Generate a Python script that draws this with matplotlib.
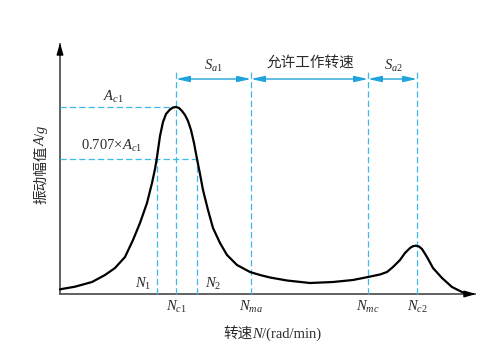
import numpy as np
import matplotlib
matplotlib.use("Agg")
import matplotlib.pyplot as plt

plt.rcParams['font.family'] = ['Liberation Serif', 'Noto Sans CJK SC']
plt.rcParams['mathtext.fontset'] = 'custom'
plt.rcParams['mathtext.rm'] = 'Liberation Serif'
plt.rcParams['mathtext.it'] = 'Liberation Serif:italic'

# amplitude curve (speed, amplitude)
speed = [0, 15, 32, 45, 55, 65, 73, 80, 87, 92, 95, 97, 100, 103, 106, 110,
         113, 116, 119, 122, 125, 128, 131, 134, 137, 140, 143, 148, 153,
         160, 167, 177, 190, 200, 210, 227, 250, 273, 293, 308, 320, 327,
         333, 340, 345, 350, 353, 356, 359, 362, 367, 373, 382, 392, 402, 407]
amp = [4.7, 7.3, 12, 19, 26, 37, 54, 71, 91, 111, 125, 137, 158, 172, 180, 184.5,
       186.5, 187, 186, 183, 179, 173, 164, 151, 135, 120, 104, 84, 66,
       51, 39, 29, 22, 19, 16.5, 13.5, 11, 12, 14, 17, 19.5, 22,
       27, 34, 41, 46, 47.8, 48.3, 47.5, 45, 37, 26, 16, 7, 2, 0.5]

# marked speeds
N1, Nc1, N2, Nma, Nmc, Nc2 = 96.5, 116, 137, 191, 308, 357
Ac1 = 187
A707 = 135

blue = '#3dbbe8'
arrow_blue = '#1fa3dc'
tcol = '#2a2a2a'
fs = 10.5

fig = plt.figure(figsize=(4.96, 3.62), dpi=100)
ax = fig.add_axes([0, 0, 1, 1])
ax.set_xlim(-60, 436)
ax.set_ylim(-68, 294)
ax.axis('off')

# axes with arrows
ax.plot([0, 415], [0, 0], color='#555555', lw=1.3)
ax.plot([0, 0], [0, 250], color='#555555', lw=1.3)
ax.annotate('', xy=(419, 0), xytext=(405, 0),
            arrowprops=dict(arrowstyle='-|>,head_length=0.7,head_width=0.2',
                            color='black', lw=1))
ax.annotate('', xy=(0, 254), xytext=(0, 240),
            arrowprops=dict(arrowstyle='-|>,head_length=0.7,head_width=0.2',
                            color='black', lw=1))

dash = (5, 2.5)
# horizontal guides
ax.plot([0, Nc1], [Ac1, Ac1], color=blue, lw=0.9, dashes=dash)
ax.plot([0, N2], [A707, A707], color=blue, lw=0.9, dashes=dash)
# vertical guides
for n in [Nc1, Nma, Nmc, Nc2]:
    ax.plot([n, n], [0, 224], color=blue, lw=0.9, dashes=dash)
for n in [N1, N2]:
    ax.plot([n, n], [0, A707], color=blue, lw=0.9, dashes=dash)

# range arrows
for a, b in [(Nc1, Nma), (Nma, Nmc), (Nmc, Nc2)]:
    ax.annotate('', xy=(b, 215), xytext=(a, 215),
                arrowprops=dict(arrowstyle='<|-|>,head_length=0.8,head_width=0.18',
                                color=arrow_blue, lw=1, shrinkA=0, shrinkB=0))

# curve
ax.plot(speed, amp, color='black', lw=1.6, solid_capstyle='round',
        solid_joinstyle='round')

ax.text(53, 197, r'$A_{c1}$', ha='center', va='center', fontsize=fs, color=tcol)
ax.text(52, 148, r'0.707$\times$$A_{c1}$', ha='center', va='center', fontsize=fs,
        color=tcol)
ax.text(153, 228, r'$S_{a1}$', ha='center', va='center', fontsize=fs, color=tcol)
ax.text(250, 230, '允许工作转速', ha='center', va='center', fontsize=fs,
        color=tcol, family='Noto Sans CJK SC')
ax.text(333, 228, r'$S_{a2}$', ha='center', va='center', fontsize=fs, color=tcol)
ax.text(83, 10, r'$N_1$', ha='center', va='center', fontsize=fs, color=tcol)
ax.text(153, 10, r'$N_2$', ha='center', va='center', fontsize=fs, color=tcol)
for n, lab in [(Nc1, r'$N_{c1}$'), (Nma, r'$N_{ma}$'), (Nmc, r'$N_{mc}$'),
               (Nc2, r'$N_{c2}$')]:
    ax.text(n, -13, lab, ha='center', va='center', fontsize=fs, color=tcol)

# mixed-font labels, pieces placed one after another
cjk = dict(family='Noto Sans CJK SC')
ser = dict(family='Liberation Serif')
ital = dict(family='Liberation Serif', style='italic')
xlabel_parts = [('转速', cjk), ('N', ital), ('/(rad/min)', ser)]
ylabel_parts = [('振动幅值', cjk), ('A', ital), ('/', ser), ('g', ital)]

fig.canvas.draw()
r = fig.canvas.get_renderer()


def place_parts(x, y, parts, vertical=False):
    texts = [ax.text(0, 0, s, fontsize=fs, color=tcol, **kw) for s, kw in parts]
    sizes = [t.get_window_extent(r).width for t in texts]
    cx, cy = ax.transData.transform((x, y))
    pos = (cy if vertical else cx) - sum(sizes) / 2
    inv = ax.transData.inverted()
    for t, w in zip(texts, sizes):
        if vertical:
            t.set_position(inv.transform((cx, pos)))
            t.set_rotation(90)
        else:
            t.set_position(inv.transform((pos, cy)))
        t.set_rotation_mode('anchor')
        t.set_ha('left')
        t.set_va('baseline')
        pos += w


place_parts(212, -44, xlabel_parts)
place_parts(-15, 129, ylabel_parts, vertical=True)

fig.savefig('out.png', dpi=100)
